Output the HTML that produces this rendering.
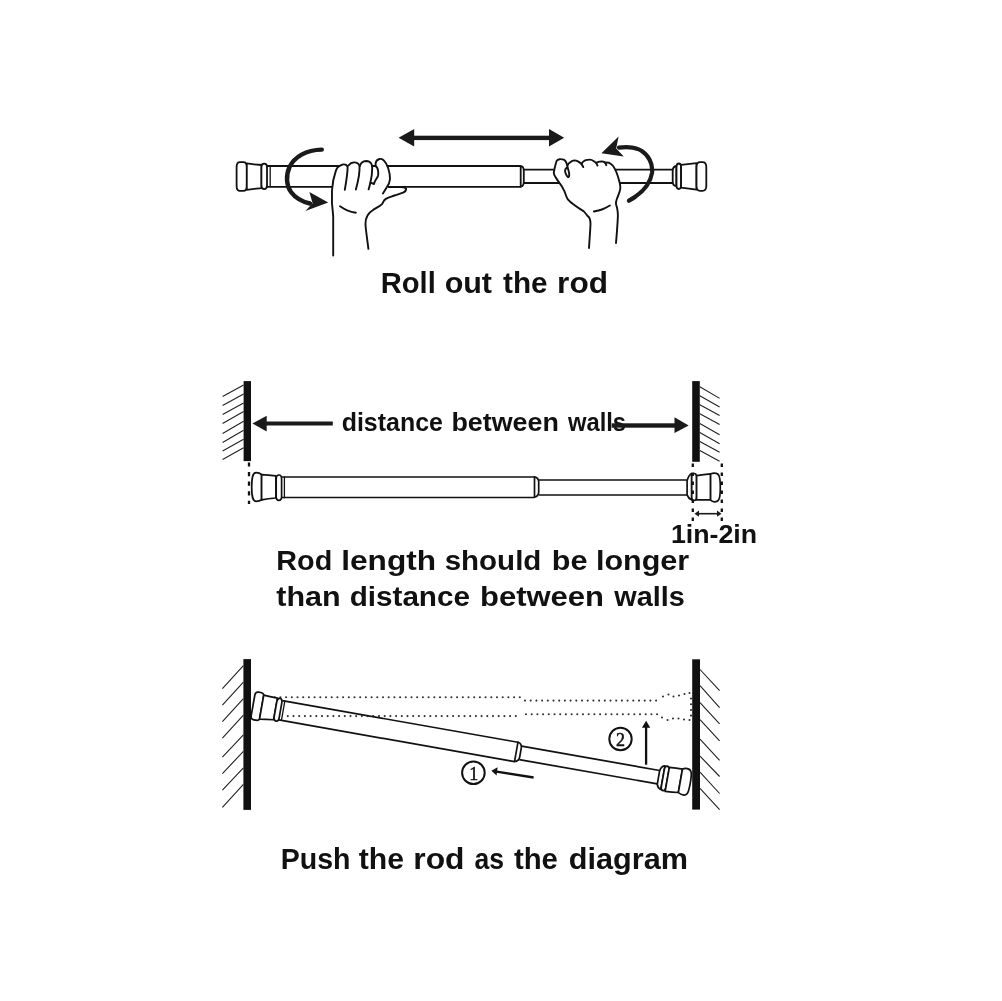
<!DOCTYPE html>
<html><head><meta charset="utf-8">
<style>
html,body{margin:0;padding:0;background:#fff;}
body{width:1002px;height:1001px;overflow:hidden;position:relative;}
svg{position:absolute;left:0;top:0;will-change:transform;}
.t{font-family:"Liberation Sans",sans-serif;font-weight:bold;fill:#111;}
.s{font-family:"Liberation Serif",serif;fill:#111;}
</style></head><body>
<svg width="1002" height="1001" viewBox="0 0 1002 1001">
<!-- TEXTS -->
<text class="t" x="380.69" y="292.7" font-size="29" textLength="55.07" lengthAdjust="spacingAndGlyphs">Roll</text>
<text class="t" x="444.65" y="292.7" font-size="29" textLength="47.39" lengthAdjust="spacingAndGlyphs">out</text>
<text class="t" x="503.1" y="292.7" font-size="29" textLength="44.53" lengthAdjust="spacingAndGlyphs">the</text>
<text class="t" x="557.11" y="292.7" font-size="29" textLength="50.85" lengthAdjust="spacingAndGlyphs">rod</text>
<text class="t" x="341.72" y="430.7" font-size="25.5" textLength="101.16" lengthAdjust="spacingAndGlyphs">distance</text>
<text class="t" x="451.45" y="430.7" font-size="25.5" textLength="107.41" lengthAdjust="spacingAndGlyphs">between</text>
<text class="t" x="567.93" y="430.7" font-size="25.5" textLength="58.14" lengthAdjust="spacingAndGlyphs">walls</text>
<text class="t" x="670.93" y="542.7" font-size="25" textLength="86.23" lengthAdjust="spacingAndGlyphs">1in-2in</text>
<text class="t" x="276.29" y="569.6" font-size="28.5" textLength="55.93" lengthAdjust="spacingAndGlyphs">Rod</text>
<text class="t" x="341.19" y="569.6" font-size="28.5" textLength="94.87" lengthAdjust="spacingAndGlyphs">length</text>
<text class="t" x="444.66" y="569.6" font-size="28.5" textLength="96.69" lengthAdjust="spacingAndGlyphs">should</text>
<text class="t" x="551.83" y="569.6" font-size="28.5" textLength="35.69" lengthAdjust="spacingAndGlyphs">be</text>
<text class="t" x="595.93" y="569.6" font-size="28.5" textLength="93.27" lengthAdjust="spacingAndGlyphs">longer</text>
<text class="t" x="276.3" y="605.9" font-size="28.5" textLength="64.41" lengthAdjust="spacingAndGlyphs">than</text>
<text class="t" x="349.66" y="605.9" font-size="28.5" textLength="120.33" lengthAdjust="spacingAndGlyphs">distance</text>
<text class="t" x="480.01" y="605.9" font-size="28.5" textLength="124.02" lengthAdjust="spacingAndGlyphs">between</text>
<text class="t" x="614.31" y="605.9" font-size="28.5" textLength="70.55" lengthAdjust="spacingAndGlyphs">walls</text>
<text class="t" x="280.72" y="868.6" font-size="29" textLength="69.77" lengthAdjust="spacingAndGlyphs">Push</text>
<text class="t" x="358.8" y="868.6" font-size="29" textLength="45.23" lengthAdjust="spacingAndGlyphs">the</text>
<text class="t" x="413.3" y="868.6" font-size="29" textLength="51.17" lengthAdjust="spacingAndGlyphs">rod</text>
<text class="t" x="474.4" y="868.6" font-size="29" textLength="29.53" lengthAdjust="spacingAndGlyphs">as</text>
<text class="t" x="513.9" y="868.6" font-size="29" textLength="44.03" lengthAdjust="spacingAndGlyphs">the</text>
<text class="t" x="568.84" y="868.6" font-size="29" textLength="119.24" lengthAdjust="spacingAndGlyphs">diagram</text>

<!-- SECTION 2 walls -->
<rect x="243.6" y="381.1" width="7.4" height="80" fill="#111"/>
<rect x="692.2" y="381.1" width="7.6" height="80.7" fill="#111"/>
<g stroke="#222" stroke-width="1.1" fill="none">
<path d="M222.6 396.6L243.6 384.9M222.6 405.6L243.6 393.9M222.6 414.6L243.6 402.9M222.6 423.6L243.6 411.4M222.6 433.5L243.6 421.3M222.6 442.4L243.6 430.3M222.6 451L243.6 439.3M222.6 459.5L243.6 447.8"/>
<path d="M699.8 386.7L719.6 398.4M699.8 395.7L719.6 406.9M699.8 404.7L719.6 415.5M699.8 413.7L719.6 424.5M699.8 423.6L719.6 434.8M699.8 432.6L719.6 443.8M699.8 441.5L719.6 452.3M699.8 450.5L719.6 461.3"/>
</g>
<!-- distance arrows -->
<g fill="#1a1a1a">
<rect x="262" y="421.5" width="70.8" height="4"/>
<path d="M252.5 423.5L266.7 415.8L266.7 431.4Z"/>
<rect x="611.6" y="423.3" width="68" height="4.4"/>
<path d="M688.7 425.4L674.5 417.2L674.5 433Z"/>
</g>
<!-- dotted verticals -->
<!-- small double arrow -->
<g stroke="#1a1a1a" stroke-width="1.6" fill="none">
<path d="M697 513.7H719"/>
</g>
<g fill="#1a1a1a"><path d="M694.5 513.7L699 510.6L699 516.8Z"/><path d="M721.5 513.7L717 510.6L717 516.8Z"/></g>

<!-- SECTION 3 walls -->
<rect x="243.4" y="659.1" width="7.6" height="150.8" fill="#111"/>
<rect x="692.2" y="659.3" width="7.8" height="150.3" fill="#111"/>
<g stroke="#222" stroke-width="1.1" fill="none">
<path d="M222.4 688.7L243.4 665.7M222.4 705.2L243.4 682.1M222.4 721.7L243.4 698.6M222.4 738.2L243.4 715.1M222.4 757.1L243.4 734.9M222.4 773.6L243.4 751.4M222.4 790.1L243.4 767.9M222.4 807.4L243.4 784.3"/>
<path d="M700 669.5L719.6 690.7M700 685.7L719.6 707.7M700 702.6L719.6 723.9M700 719.6L719.6 740.8M700 739.1L719.6 760.4M700 756.1L719.6 776.5M700 772.2L719.6 793.5M700 788.4L719.6 809.6"/>
</g>
<!-- circles and arrows -->
<g stroke="#111" stroke-width="2" fill="none">
<circle cx="473.4" cy="772.7" r="11.3"/>
<circle cx="620.5" cy="739" r="11.2"/>
<path d="M495 771.3L533.6 777.5" stroke-width="2.3"/>
<path d="M646.1 725V764.7" stroke-width="2.3"/>
</g>
<g fill="#111">
<path d="M491.4 770.7L497.6 767.2L496.6 775.4Z"/>
<path d="M646.1 720.7L650.3 727.8L641.9 727.8Z"/>
</g>
<text class="s" x="473.8" y="779.7" font-size="18" text-anchor="middle" stroke="#111" stroke-width="0.5">1</text>
<text class="s" x="620.6" y="745.5" font-size="18" text-anchor="middle" stroke="#111" stroke-width="0.5">2</text>

<!-- SECTION 1 double arrow -->
<g fill="#1a1a1a">
<rect x="410" y="135.7" width="143" height="4.4"/>
<path d="M398.6 137.8L414.2 129L414.2 146.4Z"/>
<path d="M564.2 137.8L549 129L549 146.4Z"/>
</g>

<!-- ===== SECTION 1 ROD ===== -->
<g stroke="#111" stroke-width="1.8" fill="none" stroke-linejoin="round">
<path d="M267 166H520.7M267 186.8H520.7"/>
<path d="M520.7 165.8C523 166.2 523.8 168 523.8 171V181.5C523.8 184.5 523 186.4 520.7 186.9Z" fill="#fff"/>
<path d="M523.8 169.7H672.7M523.8 183H672.7"/>
<!-- left cap -->
<path d="M240 162.2H243.4C246 162.2 246.8 164 246.8 167V186C246.8 189.5 246 190.9 243.4 190.9H240C237.6 190.9 236.6 189 236.6 186V167C236.6 164 237.6 162.2 240 162.2Z" fill="#fff"/>
<path d="M246.8 163.3Q254 164.3 261.6 165V188.2Q254 188.8 246.8 189.8Z" fill="#fff"/>
<path d="M264.2 163.6C266.2 163.6 267 165 267 167V185.6C267 187.8 266.2 189.1 264.2 189.1C262.2 189.1 261.4 187.8 261.4 185.6V167C261.4 165 262.2 163.6 264.2 163.6Z" fill="#fff"/>
<path d="M270.2 166.4V186.9" stroke-width="1.3"/>
<!-- right cap -->
<path d="M676.4 166C674 166.3 672.7 168 672.7 171V181.5C672.7 184.5 674 186 676.4 186.2Z" fill="#fff"/>
<path d="M678.8 163.5C680.4 163.5 681.1 165 681.1 167V185.5C681.1 187.5 680.4 189 678.8 189C677.2 189 676.5 187.5 676.5 185.5V167C676.5 165 677.2 163.5 678.8 163.5Z" fill="#fff"/>
<path d="M681.1 164.9Q689 164 696.5 163.2V189.7Q689 188.5 681.1 187.6Z" fill="#fff"/>
<path d="M700 162.1H702.5C705.2 162.1 706.3 164 706.3 167V186C706.3 189.3 705.2 190.8 702.5 190.8H700C697.4 190.8 696.5 189.3 696.5 186V167C696.5 164 697.4 162.1 700 162.1Z" fill="#fff"/>
</g>


<!-- ===== HANDS ===== -->
<g stroke="#151515" stroke-width="1.7" fill="#fff" stroke-linecap="round" stroke-linejoin="round">
<!-- left hand fill -->
<path stroke="none" d="M333.2 255.5V216C332 208 331.6 200 332 190.3C332.5 182 334 176 336 170.4C337 167 339 165.6 343.2 164.4C346 164 349 163.5 354.3 162.4C358 162.5 360 162.8 366.3 161.2C370 161.5 373 164 375.9 162.4C378 160 380 158.8 382.3 158.8C385 159 387 163 388.3 168C389.5 172 390 178 388.7 182.3L387.1 187.1H399.9L406.2 188.3L405.8 191.1L403 192.7L394.3 195.5L385.5 199.1L382.3 203.9L372.7 210.3L367.9 215.1C365.5 218 365 221 365.5 226L368.4 248.9Z"/>
</g>
<g stroke="#111" stroke-width="1.9" fill="none" stroke-linecap="round" stroke-linejoin="round">
<path d="M333.2 255.5V216C332 208 331.5 200 332 190.3C332.5 182 334 176 336 170.4C337 167.5 339 165.6 343.2 164.4C345.5 164.2 347 165 347.6 167C347.8 172 346.5 180 344.8 189.9"/>
<path d="M348.5 165.5C350 163.5 352 162.4 354.3 162.4C356.5 162.4 358.5 163.2 359.5 165.8C359.8 170 358.5 180 355.9 189.5"/>
<path d="M359.9 166C360.5 163 363 161.2 366.3 161C368.5 161 370.2 162 371.2 163.5C372 164.8 372.2 166 372.2 168C372.2 173 371.5 178 370.6 181.5C370 184.5 369.3 187 368.6 189.4"/>
<path d="M372.2 166H375.4C376.5 166.2 377.5 168 378 170.2C378.3 172 378.3 174 378.1 175.5C377.8 177 377 178 375.8 179.8C375 181 374.3 182.5 374 184L370.6 182.6"/>
<path d="M375.6 166.2V163.5C375.8 161.5 377.5 159.5 379.5 159C381 158.6 382.5 159.3 383.8 160.4C385.5 162 387 165 388.2 168.2C389.3 171.5 390 175.5 390 179C389.8 182 388.8 184.8 386.6 187.5C385.5 189.5 384.2 191.5 383 193.4"/>
<path d="M388.5 187.1H399.9C403 187.2 405 187.5 406 188.5C406.3 190 405.5 191.5 403 192.6C400 193.8 397 194.5 394.3 195.5C391 196.8 388 197.5 385.5 199.1C383.5 200.5 383 202.5 382.3 203.9C379.5 206.5 376 208 372.7 210.3C370 212 368.5 213.5 367.5 215.5C365.8 218.5 365.2 222 365.6 226C366.2 233 367.5 241 368.4 248.9"/>
<path d="M340 206.3C342.5 208 345 209.5 347.2 210.3C350 211.5 353 212.3 355.9 212.7"/>
</g>

<g stroke="none" fill="#fff">
<!-- right hand fill -->
<path d="M589 248L590.5 224C590 219 589 216.5 587.5 215.9L583.5 211.1L574 204.7L567.6 199.1L564.4 191.1L559.6 183.1L554.8 176C553.5 172 553.6 168 554.8 164.8C555.5 162 557 160 560.4 159.2C563 159.3 565 161 566.8 164C568 162 571 160.4 574 160.4C578 160.5 580 162 581.5 163.6C583 161.5 586 159.6 589.9 159.6C593 160 595 161.5 596.3 163C598 162 600 161.6 603.5 161.6C605 161.8 606.5 162.5 609.1 162.8C611 163.5 613 166 616.3 172C618 176 619.5 182 620.3 186.3C620.5 190 619.5 195 617.1 198.3C616 201 615.5 203.5 615.9 203.1C616.5 206 617.5 210 617.9 215.9L616 243Z"/>
</g>
<g stroke="#111" stroke-width="1.9" fill="none" stroke-linecap="round" stroke-linejoin="round">
<path d="M589 248C589.5 240 590.3 230 590.5 224C590.5 219.5 589.5 217 587.5 215.9C586 214 585 212.5 583.5 211.1C580 209 577 207 574 204.7C571.5 203 569.5 201.5 567.6 199.1C566.2 196.5 565.5 194 564.4 191.1C563 188 561.5 185.5 559.6 183.1C558 181 556.5 179 555.8 177.5C554.5 175.5 553.8 174.5 553.8 173C553.8 171.5 554.2 170.5 554.5 169C555 166.5 555.8 163.5 556.5 161.2C557.2 159.8 558 159.3 559.5 159.2C561 159.1 562.5 159.2 563.8 159.6C565 160.3 565.8 161.3 566.3 162.6C566.8 164 567.2 165 567.5 166.5C567.9 168.5 568.5 170.5 569 172.5C569.3 174 569.3 175.5 569 176.5C568.7 177.3 568.2 177.2 567.8 177C566.8 176 566 174.5 565.5 173C565 171.8 564.8 170.8 565.2 169.8C565.5 169 566 168.5 566.5 168"/>
<path d="M567.3 165.6C568 164.2 569 163 570.2 162.2C571.5 161.2 572.8 160.5 574.3 160.4C575.8 160.4 577 160.8 577.9 161.3C579 161.9 580 162.6 581 163.5C582 164.6 582.7 165.8 583.3 167.1"/>
<path d="M581.5 163.6C582.5 162.2 583.8 161 585.1 160.4C586.5 159.8 588 159.6 589.9 159.6C591.5 159.6 592.8 160.4 593.9 161.2C595 162 595.8 162.6 596.3 163.2C596.8 164 597.2 164.8 597.5 165.6"/>
<path d="M596.3 162.8C597.3 162.2 598.3 161.8 599.5 161.6C601 161.4 602.3 161.4 603.5 161.6C604.6 162.2 605.5 163 605.9 164C606.1 164.4 606.2 164.8 606.3 165.2"/>
<path d="M605.1 162.4C606.5 162.4 607.8 162.5 609.1 162.8C610.8 163.5 612 164.5 613.1 166C614.5 168 615.5 170 616.3 172C617.3 174.5 618.1 177 618.7 179.1C619.5 181.5 620.1 184 620.3 186.3C620.5 188.5 620.2 190.3 619.5 191.9C618.8 194 618 196.2 617.1 198.3C616.5 200 616 201.5 615.9 203.1C615.9 204.8 616.6 206.3 617.1 207.9C617.6 210.5 617.9 213 617.9 215.9C617.5 225 616.8 234 616 243"/>
<path d="M593.9 211.5C596.5 211 599.3 210.4 601.9 209.5C604.7 208.5 607.3 207 609.9 205.5"/>
</g>

<!-- rotation arrows -->
<g stroke="#1a1a1a" stroke-width="4.4" fill="none" stroke-linecap="round">
<path d="M321.8 149.6C306 149.8 294.5 157 289.5 167C285.5 176 286.5 186 291 192C295 197.5 301 201.5 310 203.5"/>
<path d="M629 200.7C641 194 650 186 652 173C653.2 163 648 155 641.4 150.8C635 146.8 628 146.5 619 147.6" stroke-width="4.2"/>
</g>
<g fill="#1a1a1a">
<path d="M328.2 202.4L309.4 192L312.6 203.2L305.4 211.1Z"/>
<path d="M601.4 153.2L618.6 136.4L616.2 148.4L623.8 156.4Z"/>
</g>

<!-- ===== SECTION 2 ROD ===== -->
<g stroke="#111" stroke-width="1.7" fill="none" stroke-linejoin="round">
<path d="M281.6 477H534.5M281.6 497.5H534.5"/>
<path d="M534.5 476.8C537.2 477.3 538.7 479 538.7 482V492C538.7 495 537.2 496.6 534.5 497.1Z" fill="#fff"/>
<path d="M538.7 480H687.1M538.7 495H687.1"/>
<!-- left cap -->
<path d="M256.2 472.6C259.5 472.6 261.6 474.7 261.6 474.7V499.8C261.6 499.8 259.5 501.3 256.2 501.3C252.5 501.3 251.7 496 251.7 487C251.7 478 252.5 472.6 256.2 472.6Z" fill="#fff"/>
<path d="M261.6 474.7Q268 475.2 275.9 475.9V498Q268 498.8 261.6 499.8Z" fill="#fff"/>
<path d="M278.9 475C280.9 475 281.6 476.5 281.6 479V496.5C281.6 499 280.9 500.4 278.9 500.4C276.9 500.4 276.2 499 276.2 496.5V479C276.2 476.5 276.9 475 278.9 475Z" fill="#fff"/>
<path d="M284.4 476.5V498.3" stroke-width="1.3"/>
<!-- right cap -->
<path d="M687.1 480.9C688 477.5 689.5 474.5 691.7 473.5V500C689.5 499 688 497.5 687.1 494.9Z" fill="#fff"/>
<path d="M694.1 473.5C696 473.5 696.6 475 696.6 477V497C696.6 499.5 696 500.5 694.1 500.5C692.3 500.5 691.7 499.5 691.7 497V477C691.7 475 692.3 473.5 694.1 473.5Z" fill="#fff"/>
<path d="M696.6 475.6Q704 474.6 710.6 473.9V499.8Q704 499.8 696.6 499.8Z" fill="#fff"/>
<path d="M714.5 473.2C719 473.2 720.3 476 720.3 487C720.3 498 719.5 501.9 714.5 501.9C712 501.9 710.6 500 710.6 499.8V473.9C710.6 473.9 712 473.2 714.5 473.2Z" fill="#fff"/>
</g>
<g stroke="#111" stroke-width="2.3" stroke-dasharray="3.2 5.6" fill="none">
<path d="M249 462.4V504" stroke-dasharray="4.2 5.4"/>
<path d="M692.8 463.4V521" stroke-dasharray="3.5 5.5"/>
<path d="M721.8 463.4V521" stroke-dasharray="3.5 5.5"/>
</g>

<!-- ===== SECTION 3 GHOST ===== -->
<g stroke="#333" stroke-width="2.1" stroke-linecap="round" stroke-dasharray="0 5.7" fill="none">
<path d="M269 697.2H520.5M525 700.6H660"/>
<path d="M287.8 716.1H520.5M526 714.3H658"/>
<path d="M663 696.5h0M668.5 694.5h0M673.5 696.5h0M679 695.5h0M684.5 694h0M689.5 693h0M662 717.5h0M667.5 720h0M673 718.5h0M678.5 718.5h0M684 719.5h0M689.5 720h0M691 698.5h0M691 704.2h0M691 710h0M691 715.6h0" stroke-dasharray="none"/>
</g>

<!-- ===== SECTION 3 ROD ===== -->
<g transform="rotate(10.01 304.9 714.6)" stroke="#111" stroke-width="1.7" fill="none" stroke-linejoin="round">
<path d="M280.1 704.8H519.5M280.1 724.4H519.5"/>
<path d="M519.5 704.6C522.3 705.2 523.8 707 523.8 710V719C523.8 722 522.3 723.8 519.5 724.4Z" fill="#fff"/>
<path d="M523.8 708H664M523.8 721.6H664"/>
<!-- left cap -->
<path d="M255.5 700.5H257.5Q260.5 700.6 261 702.6V726.9Q260.5 728.6 257.5 728.6H255.5Q252.2 728.6 252.2 725V704Q252.2 700.5 255.5 700.5Z" fill="#fff"/>
<path d="M261 702.6Q267 703 275 703.2V725.1Q267 726 261 726.9Z" fill="#fff"/>
<path d="M277.5 703C279.5 703 280.1 704.5 280.1 707V722.5C280.1 725 279.5 726 277.5 726C275.6 726 275 725 275 722.5V707C275 704.5 275.6 703 277.5 703Z" fill="#fff"/>
<path d="M282.8 704.4V724.7" stroke-width="1.3"/>
<!-- right cap -->
<path d="M664 708.5C664.5 705 666.5 702.8 668.4 702.5V726.5C666.5 726 664.5 724 664 721.8Z" fill="#fff"/>
<path d="M670.7 702.3C672.4 702.3 673 703.8 673 706V723.5C673 726 672.4 727.3 670.7 727.3C669 727.3 668.4 726 668.4 723.5V706C668.4 703.8 669 702.3 670.7 702.3Z" fill="#fff"/>
<path d="M673 703.3Q680 702.9 686.2 702.7V726.4Q680 727 673 727.5Z" fill="#fff"/>
<path d="M690.9 701.3C695 701.3 696.3 704 696.3 714C696.3 725 695.5 728 692 728C688.5 728 686.2 726.4 686.2 726.4V702.7C686.2 702.7 688 701.3 690.9 701.3Z" fill="#fff"/>
</g>

</svg>
</body></html>
